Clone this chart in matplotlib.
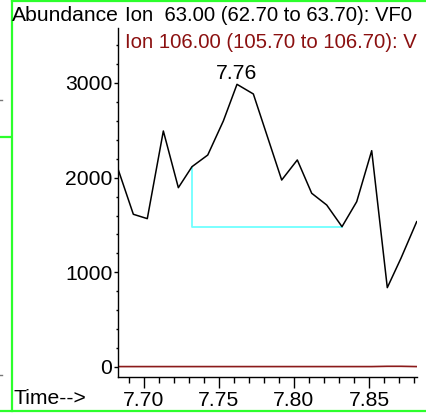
import matplotlib
matplotlib.use("Agg")
import matplotlib.pyplot as plt
from matplotlib.lines import Line2D
from matplotlib.ticker import MultipleLocator, FixedLocator

plt.rcParams['font.family'] = ['Liberation Sans', 'DejaVu Sans']

# Data
times = [7.6829, 7.6929, 7.7022, 7.7129, 7.7229, 7.7320, 7.7425, 7.7529, 7.7620,
         7.7729, 7.7918, 7.8022, 7.8118, 7.8218, 7.8320, 7.8418, 7.8518, 7.8622,
         7.8713, 7.8818]
ion63 = [2081, 1613, 1567, 2493, 1894, 2116, 2239, 2599, 2986,
         2884, 1975, 2187, 1835, 1711, 1482, 1746, 2285, 838,
         1148, 1535]
ion106 = [4, 4, 4, 4, 4, 4, 4, 4, 4, 4, 4, 4, 4, 4, 4, 4, 4, 7, 7, 4]
baseline_t = [7.7320, 7.7320, 7.8320]
baseline_v = [2116, 1482, 1482]
peak_label = "7.76"
peak_t = 7.7620
peak_v = 2986
x_ticks = [7.70, 7.75, 7.80, 7.85]
x_labels = ["7.70", "7.75", "7.80", "7.85"]
y_ticks = [0, 1000, 2000, 3000]
y_labels = ["0", "1000", "2000", "3000"]

W, H = 426, 415
fig = plt.figure(figsize=(W / 100, H / 100), dpi=100)

ax_l, ax_r, ax_b, ax_t = 118, 417, 377, 28
ax = fig.add_axes([ax_l / W, (H - ax_b) / H, (ax_r - ax_l) / W, (ax_b - ax_t) / H])

ax.plot(times, ion106, color='#8b1a1a', lw=1.2, zorder=2)
ax.plot(baseline_t, baseline_v, color='#70ffff', lw=1.3, zorder=2)
ax.plot(times, ion63, color='black', lw=1.1, zorder=3)

ax.set_xlim(7.68267, 7.882)
ax.set_ylim(-106, 3581)

for s in ['top', 'right']:
    ax.spines[s].set_visible(False)
for s in ['left', 'bottom']:
    ax.spines[s].set_linewidth(1.0)

ax.xaxis.set_major_locator(FixedLocator(x_ticks))
ax.set_xticklabels(x_labels)
ax.xaxis.set_minor_locator(MultipleLocator(0.01))
ax.yaxis.set_major_locator(FixedLocator(y_ticks))
ax.set_yticklabels(y_labels)
ax.yaxis.set_minor_locator(MultipleLocator(200))

fs = 15.2
ax.tick_params(axis='x', which='major', direction='out', length=8, width=1, labelsize=fs, pad=2)
ax.tick_params(axis='x', which='minor', direction='out', length=4, width=1)
ax.tick_params(axis='y', which='major', direction='out', length=3, width=1, labelsize=fs, pad=1)
ax.tick_params(axis='y', which='minor', direction='out', length=1.5, width=1)

ax.annotate(peak_label, (peak_t, peak_v), xytext=(0, 4), textcoords='offset points',
            ha='center', va='baseline', fontsize=fs)

def fx(px):
    return px / W

def fy(py):
    return 1 - py / H

fig.text(fx(12), fy(21), "Abundance", fontsize=fs, va='baseline', ha='left')
fig.text(fx(125), fy(21), "Ion  63.00 (62.70 to 63.70): VF0", fontsize=14.6, va='baseline', ha='left')
fig.text(fx(125), fy(48), "Ion 106.00 (105.70 to 106.70): V", fontsize=14.6, va='baseline',
         ha='left', color='#8b1010')
fig.text(fx(13), fy(404), "Time-->", fontsize=fs, va='baseline', ha='left')

green = '#2cff2c'
fig.add_artist(Line2D([fx(11.5), fx(11.5)], [fy(0), fy(411)], color=green, lw=1.6))
fig.add_artist(Line2D([fx(11.5), fx(426)], [fy(0.7), fy(0.7)], color=green, lw=1.6))
fig.add_artist(Line2D([fx(0), fx(426)], [fy(411), fy(411)], color=green, lw=1.6))
fig.add_artist(Line2D([fx(0), fx(11)], [fy(137), fy(137)], color=green, lw=1.6))
fig.add_artist(Line2D([fx(0), fx(1.5)], [fy(100), fy(100)], color='#777777', lw=1))
fig.add_artist(Line2D([fx(0), fx(1.5)], [fy(375), fy(375)], color='#777777', lw=1))

fig.savefig("out.png", dpi=100)
